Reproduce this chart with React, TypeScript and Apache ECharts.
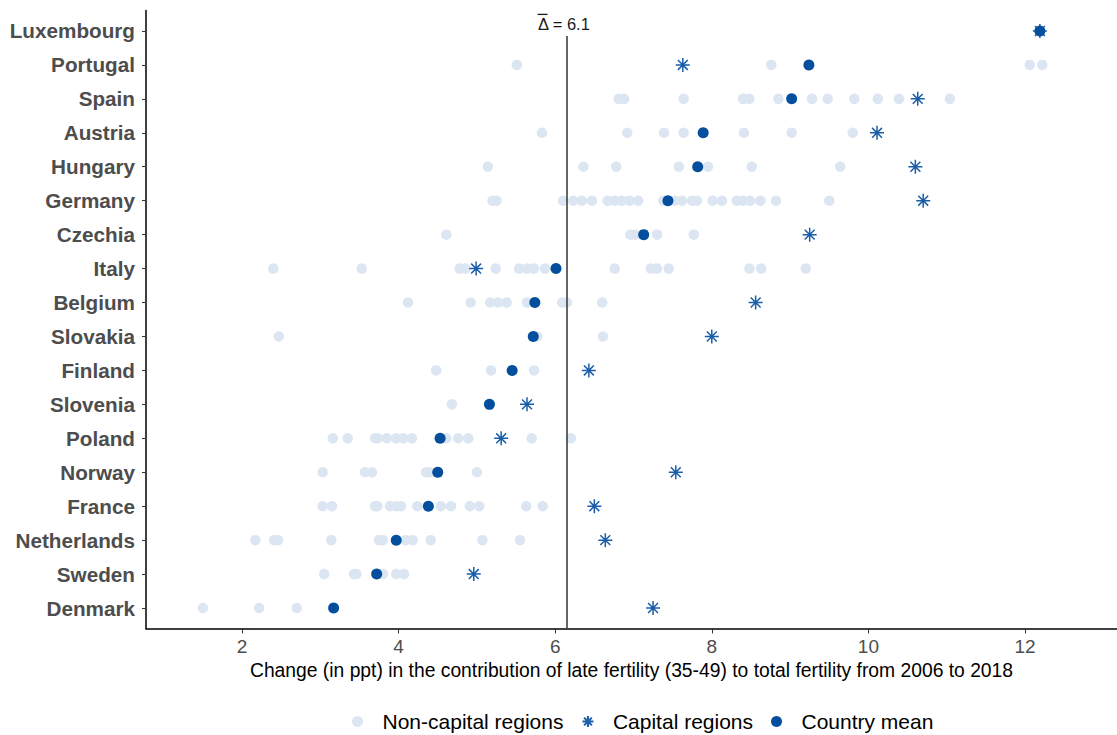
import React, { useEffect, useRef } from "react";
import * as echarts from "echarts";

const countries = [
  "Luxembourg", "Portugal", "Spain", "Austria", "Hungary", "Germany", "Czechia", "Italy",
  "Belgium", "Slovakia", "Finland", "Slovenia", "Poland", "Norway", "France",
  "Netherlands", "Sweden", "Denmark",
];

const nonCapitalValues: number[][] = [
  [],
  [5.51, 8.76, 12.06, 12.22],
  [6.81, 6.88, 7.64, 8.40, 8.48, 8.85, 9.28, 9.48, 9.82, 10.12, 10.39, 11.04],
  [5.83, 6.92, 7.39, 7.64, 8.41, 9.02, 9.80],
  [5.14, 6.36, 6.78, 7.58, 7.95, 8.51, 9.64],
  [5.20, 5.25, 6.10, 6.23, 6.34, 6.47, 6.67, 6.76, 6.85, 6.95, 7.06, 7.38, 7.53, 7.62, 7.75, 7.81, 8.01, 8.13, 8.32, 8.40, 8.49, 8.62, 8.82, 9.50],
  [4.61, 6.96, 7.02, 7.30, 7.77],
  [2.40, 3.53, 4.78, 4.85, 5.24, 5.54, 5.64, 5.73, 5.87, 6.76, 7.22, 7.30, 7.45, 8.48, 8.63, 9.20],
  [4.12, 4.92, 5.17, 5.27, 5.38, 5.64, 6.09, 6.15, 6.60],
  [2.47, 5.77, 6.61],
  [4.48, 5.18, 5.73],
  [4.68],
  [3.16, 3.35, 3.70, 3.73, 3.85, 3.97, 4.06, 4.17, 4.61, 4.76, 4.89, 5.70, 6.20],
  [3.03, 3.57, 3.66, 4.35, 4.39, 5.00],
  [3.03, 3.15, 3.70, 3.73, 3.89, 3.97, 4.03, 4.24, 4.54, 4.67, 4.91, 5.03, 5.63, 5.84],
  [2.17, 2.41, 2.46, 3.14, 3.75, 3.80, 4.09, 4.18, 4.41, 5.07, 5.55],
  [3.05, 3.43, 3.46, 3.80, 3.97, 4.07],
  [1.50, 2.22, 2.70],
];

const capitalValues = [
  12.19, 7.63, 10.63, 10.11, 10.60, 10.70, 9.25, 4.99, 8.56, 8.00, 6.43, 5.64, 5.31, 7.54, 6.50, 6.64, 4.96, 7.25,
];

const countryMeans = [
  12.19, 9.24, 9.02, 7.89, 7.82, 7.44, 7.13, 6.01, 5.74, 5.72, 5.45, 5.16, 4.53, 4.50, 4.38, 3.97, 3.72, 3.17,
];

const overallMean = 6.15;
const overallMeanLabel = "6.1";
const xTicks = [2, 4, 6, 8, 10, 12];

const FONT = "'Liberation Sans', Arial, sans-serif";
const STAR = "path://M0,-10L0,10M-10,0L10,0M-7.07,-7.07L7.07,7.07M-7.07,7.07L7.07,-7.07";

export default function App() {
  const ref = useRef<HTMLDivElement>(null);

  useEffect(() => {
    if (!ref.current) return;
    const chart = echarts.init(ref.current, null, { renderer: "svg" });
    const n = countries.length;
    const yOf = (i: number) => n - 1 - i;

    const ncData: number[][] = [];
    nonCapitalValues.forEach((arr, i) => arr.forEach((v) => ncData.push([v, yOf(i)])));
    const capData = capitalValues.map((v, i) => [v, yOf(i)]);
    const meanData = countryMeans.map((v, i) => [v, yOf(i)]);

    chart.setOption({
      animation: false,
      textStyle: { fontFamily: FONT },
      grid: { left: 146, right: 0, top: 10.6, bottom: 106.6, containLabel: false },
      xAxis: {
        type: "value",
        min: 0.774,
        max: 13.175,
        name: "Change (in ppt) in the contribution of late fertility (35-49) to total fertility from 2006 to 2018",
        nameLocation: "middle",
        nameGap: 32,
        nameTextStyle: { fontSize: 19.3, color: "#000", fontFamily: FONT },
        axisLine: { show: true, onZero: false, lineStyle: { color: "#000", width: 1.5 } },
        axisTick: { show: true, length: 5, customValues: xTicks, lineStyle: { color: "#333", width: 1 } },
        axisLabel: { customValues: xTicks, fontSize: 19, color: "#4d4d4d", margin: 9, fontFamily: FONT },
        splitLine: { show: false },
      },
      yAxis: {
        type: "value",
        min: -0.6,
        max: n - 1 + 0.6,
        axisLine: { show: true, onZero: false, lineStyle: { color: "#000", width: 1.5 } },
        axisTick: {
          show: true,
          length: 4,
          customValues: countries.map((_, i) => i),
          lineStyle: { color: "#333", width: 1 },
        },
        axisLabel: {
          customValues: countries.map((_, i) => i),
          formatter: (v: number) => countries[n - 1 - Math.round(v)],
          fontSize: 20.7,
          fontWeight: "bold",
          color: "#4d4d4d",
          margin: 11,
          fontFamily: FONT,
        },
        splitLine: { show: false },
      },
      legend: {
        left: 347,
        top: 706,
        itemWidth: 40,
        itemHeight: 11,
        itemGap: 18,
        textStyle: { fontSize: 21, color: "#000", fontFamily: FONT },
        data: ["Non-capital regions", "Capital regions", "Country mean"],
      },
      series: [
        {
          name: "Non-capital regions",
          type: "scatter",
          symbol: "circle",
          symbolSize: 10.5,
          itemStyle: { color: "#dce6f2", opacity: 1 },
          data: ncData,
          markLine: {
            silent: true,
            symbol: "none",
            lineStyle: { color: "#333", width: 1.5, type: "solid", opacity: 1 },
            label: {
              show: true,
              position: "end",
              formatter: "{o| }\n{t|\u0394 = " + overallMeanLabel + "}",
              color: "#1a1a1a",
              fontFamily: FONT,
              distance: 2,
              offset: [-3, -2],
              rich: {
                o: {
                  fontSize: 1,
                  width: 10,
                  height: 1.3,
                  lineHeight: 1.3,
                  align: "left",
                  backgroundColor: "#1a1a1a",
                },
                t: { fontSize: 16.5, lineHeight: 17, color: "#1a1a1a", fontFamily: FONT },
              },
            },
            data: [[{ coord: [overallMean, -0.6] }, { coord: [overallMean, 16.85] }]],
          },
        },
        {
          name: "Capital regions",
          type: "scatter",
          symbol: STAR,
          symbolSize: 14,
          itemStyle: { color: "#1a5ea9", borderColor: "#1a5ea9", borderWidth: 1.5, opacity: 1 },
          data: capData,
        },
        {
          name: "Country mean",
          type: "scatter",
          symbol: "circle",
          symbolSize: 11,
          itemStyle: { color: "#044f9d", opacity: 1 },
          data: meanData,
        },
      ],
    });

    return () => chart.dispose();
  }, []);

  return (
    <div
      ref={ref}
      style={{ position: "fixed", left: 0, top: 0, width: 1117, height: 735, background: "#fff" }}
    />
  );
}
